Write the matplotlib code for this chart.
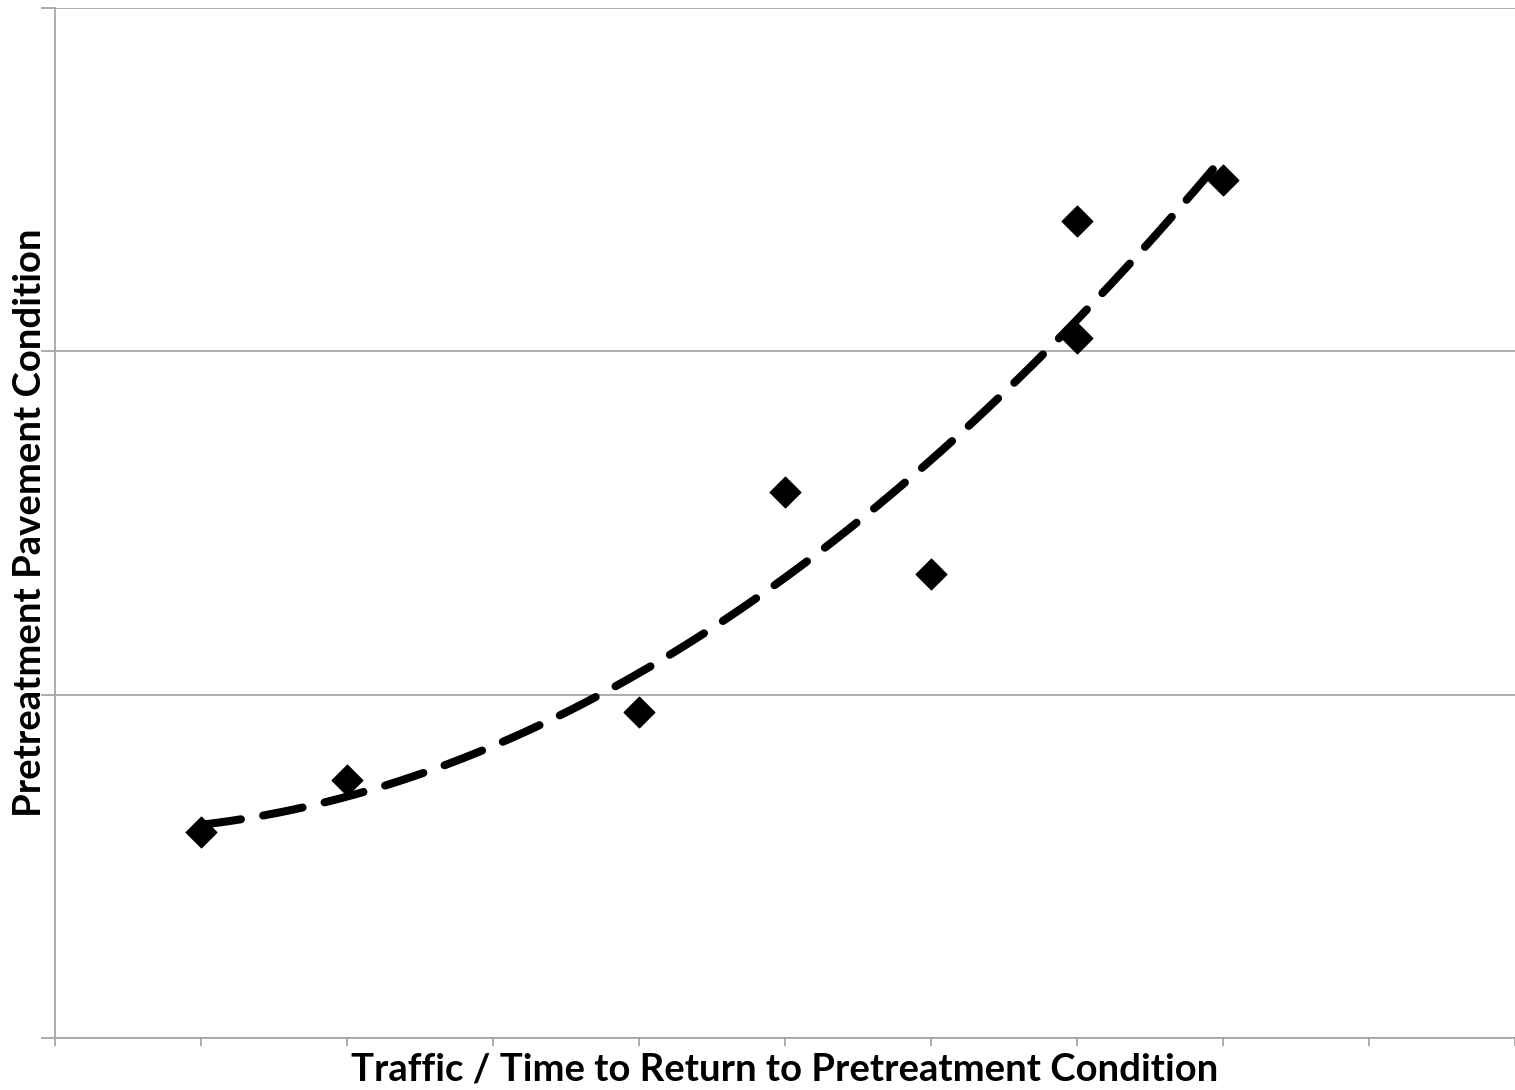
import numpy as np
import matplotlib.pyplot as plt

# observed points (traffic/time vs pretreatment condition)
traffic = [1, 2, 4, 5, 6, 7, 7, 8]
condition = [0.60, 0.75, 0.95, 1.59, 1.35, 2.38, 2.04, 2.50]

x_ticks = list(range(0, 11))
y_ticks = [0, 1, 2, 3]

X_LABEL = "Traffic / Time to Return to Pretreatment Condition"
Y_LABEL = "Pretreatment Pavement Condition"


def plot_chart():

    fig = plt.figure(figsize=(15.15, 10.9), dpi=100, facecolor="white")
    ax = fig.add_axes([0.0363, 0.0477, 0.9637, 0.9450])

    grid_color = "#a6a6a6"

    # 2nd order polynomial trendline, as in a spreadsheet chart
    coef = np.polyfit(traffic, condition, 2)
    xs = np.linspace(min(traffic), max(traffic), 200)
    ax.plot(
        xs,
        np.polyval(coef, xs),
        color="black",
        linewidth=5.8,
        linestyle=(0, (5, 2.8)),
        dash_capstyle="round",
        zorder=2
    )

    ax.scatter(
        traffic,
        condition,
        marker="D",
        s=22 ** 2 * 0.5,
        color="black",
        zorder=3
    )

    ax.set_xlim(0, 10)
    ax.set_ylim(0, 3)
    ax.set_xticks(x_ticks)
    ax.set_yticks(y_ticks)
    ax.set_xticklabels([])
    ax.set_yticklabels([])

    ax.grid(True, axis="y", color=grid_color, linewidth=1.3)
    ax.set_axisbelow(True)

    for side in ["top", "right"]:
        ax.spines[side].set_visible(False)
    for side in ["left", "bottom"]:
        ax.spines[side].set_color(grid_color)
        ax.spines[side].set_linewidth(1.3)

    ax.tick_params(axis="x", direction="out", length=6, width=1.3, color=grid_color)
    ax.tick_params(axis="y", direction="out", length=10, width=1.3, color=grid_color)

    ax.set_xlabel(X_LABEL, fontsize=27.5, fontweight="bold", family="Lato")
    ax.set_ylabel(Y_LABEL, fontsize=27.5, fontweight="bold", family="Lato")
    ax.xaxis.set_label_coords(0.5, -0.014)
    ax.xaxis.label.set_verticalalignment("top")
    ax.yaxis.set_label_coords(-0.0055, 0.5)

    fig.savefig("out.png", dpi=100, facecolor="white")
    plt.close(fig)


if __name__ == "__main__":
    plot_chart()
